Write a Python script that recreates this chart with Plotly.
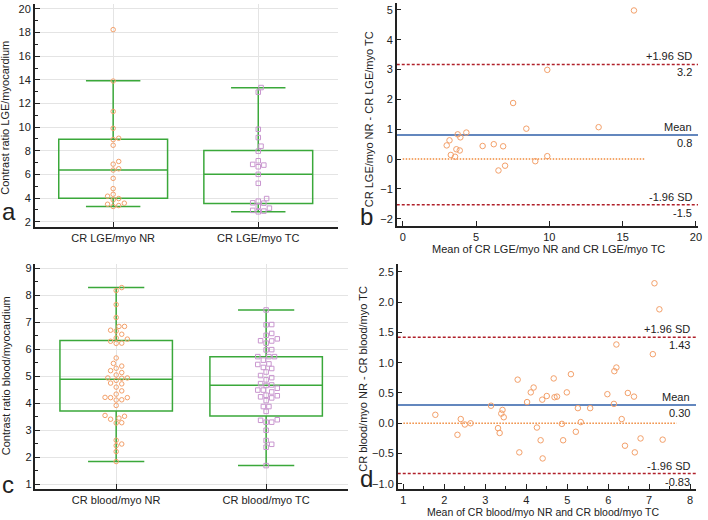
import numpy as np
import plotly.graph_objects as go

W, H = 708, 520

# ---------------- data ----------------
CAT_A = ["CR LGE/myo NR", "CR LGE/myo TC"]
CAT_C = ["CR blood/myo NR", "CR blood/myo TC"]

LGE_NR = [18.25, 13.9, 11.33, 9.9, 9.06, 8.95, 8.47, 7.1, 6.87, 6.48, 6.37,
          5.67, 4.8, 4.32, 4.16, 3.96, 3.85, 3.57, 3.48, 3.37, 3.29]
LGE_TC = [13.35, 12.96, 9.82, 9.12, 8.39, 7.97, 7.16, 6.85, 6.79, 6.65, 6.01,
          5.25, 3.96, 3.74, 3.6, 3.57, 3.3, 3.15, 2.96, 2.9, 2.84]
# box statistics: q1, median, q3, lower whisker, upper whisker
LGE_NR_BOX = [3.99, 6.37, 8.98, 3.29, 13.92]
LGE_TC_BOX = [3.54, 6.01, 8.03, 2.84, 13.33]

BLOOD_NR = [8.29, 8.18, 7.66, 7.18, 6.85, 6.85, 6.71, 6.68, 6.56, 6.38, 6.42,
            6.3, 6.22, 6.23, 5.68, 5.48, 5.38, 5.3, 5.21, 5.14, 5.05, 4.94,
            4.93, 4.94, 4.85, 4.72, 4.75, 4.6, 4.46, 4.34, 4.21, 4.21, 4.22,
            4.12, 4.13, 3.92, 3.55, 3.52, 3.45, 3.41, 3.27, 3.28, 2.63, 2.49,
            2.43, 2.21, 1.84]
BLOOD_TC = [7.46, 6.91, 6.92, 6.59, 6.52, 6.39, 6.32, 6.31, 6.23, 5.99, 5.98,
            5.73, 5.73, 5.73, 5.6, 5.44, 5.46, 5.29, 5.33, 5.16, 5.03, 4.95,
            4.87, 4.73, 4.68, 4.66, 4.56, 4.49, 4.49, 4.42, 4.3, 4.28, 4.24,
            4.2, 4.1, 3.88, 3.88, 3.7, 3.39, 3.37, 3.3, 3.3, 3.0, 2.62, 2.48,
            2.37, 1.69]
BLOOD_NR_BOX = [3.71, 4.89, 6.33, 1.84, 8.29]
BLOOD_TC_BOX = [3.53, 4.67, 5.73, 1.69, 7.46]

# Bland-Altman b
BA_B_MEAN = [3.0, 3.19, 3.28, 3.57, 3.66, 3.75, 3.89, 3.93, 4.34, 5.45, 6.21,
             6.53, 6.85, 6.98, 7.53, 8.43, 9.04, 9.86, 9.86, 13.36, 15.77]
BA_B_DIFF = [0.46, 0.63, 0.14, 0.08, 0.33, 0.83, 0.29, 0.73, 0.89, 0.44, 0.5,
             -0.38, 0.43, -0.22, 1.88, 1.02, -0.07, 2.99, 0.1, 1.07, 4.98]
BA_B_LINES = [0.81, 3.17, -1.53]          # mean, +1.96 SD, -1.96 SD
BA_B_LABELS = ["0.8", "3.2", "-1.5"]
BA_B_ZERO = [0, 16.5]

# Bland-Altman d
BA_D_MEAN = [1.78, 2.32, 2.4, 2.5, 2.64, 3.14, 3.31, 3.35, 3.39, 3.42, 3.45,
             3.79, 3.83, 4.02, 4.11, 4.18, 4.26, 4.35, 4.39, 4.40, 4.5, 4.67,
             4.69, 4.75, 4.87, 4.9, 4.99, 5.09, 5.21, 5.26, 5.33, 5.56, 5.98,
             6.14, 6.15, 6.2, 6.2, 6.33, 6.41, 6.48, 6.63, 6.65, 6.79, 7.09,
             7.13, 7.25, 7.33]
BA_D_DIFF = [0.14, -0.19, 0.07, -0.02, 0.0, 0.29, -0.08, -0.16, 0.16, 0.22,
             0.10, 0.72, -0.48, 0.35, 0.51, 0.59, -0.07, -0.28, 0.39, -0.58,
             0.45, 0.74, 0.43, 0.44, -0.01, -0.28, 0.51, 0.81, -0.14, 0.25,
             0.02, 0.25, 0.48, 0.32, 0.86, 0.92, 1.30, 0.07, -0.37, 0.50,
             0.44, -0.48, -0.25, 1.14, 2.31, 1.88, -0.27]
BA_D_LINES = [0.30, 1.42, -0.83]
BA_D_LABELS = ["0.30", "1.43", "-0.83"]
BA_D_ZERO = [1, 7.67]

# ---------------- style ----------------
FONT = "Liberation Sans, Arial, sans-serif"
TXT = "#222222"
GREEN = "#3aa83a"
ORANGE = "#f3a06a"
PURPLE = "#c996cf"
BLUE = "#2f5fa8"
RED = "#b0202a"
DOT = "#f08a3c"
GRID = "#e4e4e4"
AX = "#222222"

# panel geometry (pixels)
PA = dict(x=[35, 340], y=[2, 226], xr=[-0.54, 1.55], yr=[1.58, 20.42])
PB = dict(x=[399, 702], y=[1, 225], xr=[-0.407, 20.14], yr=[-2.23, 5.23])
PC = dict(x=[35.7, 350], y=[264, 490], xr=[-0.538, 1.546], yr=[0.816, 9.147])
PD = dict(x=[400, 700], y=[264, 490], xr=[0.862, 8.145], yr=[-1.087, 2.62])


def dom(p):
    return ([p["x"][0] / W, p["x"][1] / W], [1 - p["y"][1] / H, 1 - p["y"][0] / H])


def swarm(values, p, step_px=2.8, dist_px=5.2):
    pxx = (p["x"][1] - p["x"][0]) / (p["xr"][1] - p["xr"][0])
    pxy = (p["y"][1] - p["y"][0]) / (p["yr"][1] - p["yr"][0])
    vals = np.asarray(values, dtype=float)
    order = np.argsort(vals)
    placed = []
    offs = np.zeros(len(vals))
    cands = [0]
    for j in range(1, 40):
        cands += [j, -j]
    for i in order:
        yp = vals[i] * pxy
        xp = 0.0
        for c in cands:
            xp = c * step_px
            if all((xp - a) ** 2 + (yp - b) ** 2 >= dist_px ** 2 for a, b in placed):
                break
        placed.append((xp, yp))
        offs[i] = xp / pxx
    return offs


fig = go.Figure()


def add_box(stats, pos, xa, ya):
    fig.add_trace(go.Box(
        x=[pos], q1=[stats[0]], median=[stats[1]], q3=[stats[2]],
        lowerfence=[stats[3]], upperfence=[stats[4]],
        width=0.75, whiskerwidth=0.5, boxpoints=False,
        line=dict(color=GREEN, width=1.5), fillcolor="rgba(0,0,0,0)",
        xaxis=xa, yaxis=ya, showlegend=False, hoverinfo="skip"))


def add_points(values, pos, p, xa, ya, symbol, color):
    offs = swarm(values, p)
    fig.add_trace(go.Scatter(
        x=pos + offs, y=values, mode="markers",
        marker=dict(symbol=symbol, size=4.5, color=color, line=dict(width=1, color=color)),
        xaxis=xa, yaxis=ya, showlegend=False, hoverinfo="skip"))


# panel a
add_box(LGE_NR_BOX, 0, "x", "y")
add_box(LGE_TC_BOX, 1, "x", "y")
add_points(LGE_NR, 0, PA, "x", "y", "circle-open", ORANGE)
add_points(LGE_TC, 1, PA, "x", "y", "square-open", PURPLE)

# panel c
add_box(BLOOD_NR_BOX, 0, "x3", "y3")
add_box(BLOOD_TC_BOX, 1, "x3", "y3")
add_points(BLOOD_NR, 0, PC, "x3", "y3", "circle-open", ORANGE)
add_points(BLOOD_TC, 1, PC, "x3", "y3", "square-open", PURPLE)


def add_ba(means, diffs, lines, zero, xa, ya, p):
    fig.add_trace(go.Scatter(x=zero, y=[0, 0], mode="lines",
                             line=dict(color=DOT, width=1.5, dash="1.5px,1.5px"),
                             xaxis=xa, yaxis=ya, showlegend=False, hoverinfo="skip"))
    fig.add_trace(go.Scatter(x=p["xr"], y=[lines[0], lines[0]], mode="lines",
                             line=dict(color=BLUE, width=1.5),
                             xaxis=xa, yaxis=ya, showlegend=False, hoverinfo="skip"))
    for v in lines[1:]:
        fig.add_trace(go.Scatter(x=p["xr"], y=[v, v], mode="lines",
                                 line=dict(color=RED, width=1.5, dash="3px,2px"),
                                 xaxis=xa, yaxis=ya, showlegend=False, hoverinfo="skip"))
    fig.add_trace(go.Scatter(x=means, y=diffs, mode="markers",
                             marker=dict(symbol="circle-open", size=5.5, color=ORANGE,
                                         line=dict(width=1, color=ORANGE)),
                             xaxis=xa, yaxis=ya, showlegend=False, hoverinfo="skip"))


add_ba(BA_B_MEAN, BA_B_DIFF, BA_B_LINES, BA_B_ZERO, "x2", "y2", PB)
add_ba(BA_D_MEAN, BA_D_DIFF, BA_D_LINES, BA_D_ZERO, "x4", "y4", PD)

tickfont = dict(family=FONT, size=11, color=TXT)


def ax_common(**kw):
    d = dict(showline=True, linecolor=AX, linewidth=1.5, ticks="inside",
             ticklen=5, tickcolor=AX, tickwidth=1, zeroline=False,
             tickfont=tickfont, fixedrange=True)
    d.update(kw)
    return d


da = dom(PA); db = dom(PB); dc = dom(PC); dd = dom(PD)

fig.update_layout(
    width=W, height=H, margin=dict(l=0, r=0, t=0, b=0),
    paper_bgcolor="white", plot_bgcolor="white", showlegend=False,
    font=dict(family=FONT, color=TXT, size=11),
    boxmode="overlay",
    xaxis=ax_common(domain=da[0], range=PA["xr"], anchor="y", tickvals=[0, 1],
                    ticktext=CAT_A, showgrid=True, gridcolor=GRID, gridwidth=1),
    yaxis=ax_common(domain=da[1], range=PA["yr"], anchor="x", dtick=2, tick0=0,
                    showgrid=True, gridcolor=GRID, gridwidth=1,
                    minor=dict(ticks="inside", dtick=1, ticklen=3, tickcolor=AX, showgrid=False)),
    xaxis2=ax_common(domain=db[0], range=PB["xr"], anchor="y2", dtick=5, tick0=0,
                     showgrid=False),
    yaxis2=ax_common(domain=db[1], range=PB["yr"], anchor="x2", dtick=1, tick0=0,
                     showgrid=False),
    xaxis3=ax_common(domain=dc[0], range=PC["xr"], anchor="y3", tickvals=[0, 1],
                     ticktext=CAT_C, showgrid=True, gridcolor=GRID, gridwidth=1),
    yaxis3=ax_common(domain=dc[1], range=PC["yr"], anchor="x3", dtick=1, tick0=0,
                     showgrid=True, gridcolor=GRID, gridwidth=1,
                     minor=dict(ticks="inside", dtick=0.5, ticklen=3, tickcolor=AX, showgrid=False)),
    xaxis4=ax_common(domain=dd[0], range=PD["xr"], anchor="y4", dtick=1, tick0=0,
                     showgrid=False,
                     minor=dict(ticks="inside", dtick=0.5, ticklen=3, tickcolor=AX, showgrid=False)),
    yaxis4=ax_common(domain=dd[1], range=PD["yr"], anchor="x4", dtick=0.5, tick0=0,
                     tickformat=".1f", showgrid=False),
)

ann = []


def txt(x, y, s, size=11, angle=0, xanchor="center", yanchor="middle", xref="paper", yref="paper"):
    ann.append(dict(x=x, y=y, xref=xref, yref=yref, text=s, showarrow=False,
                    textangle=angle, xanchor=xanchor, yanchor=yanchor,
                    font=dict(family=FONT, size=size, color=TXT)))


# axis titles
txt(5.5 / W, 1 - 116 / H, "Contrast ratio LGE/myocardium", angle=-90)
txt(5.5 / W, 1 - 376 / H, "Contrast ratio blood/myocardium", angle=-90)
txt(371 / W, 1 - 118 / H, "CR LGE/myo NR - CR LGE/myo TC", angle=-90)
txt(365 / W, 1 - 379 / H, "CR blood/myo NR - CR blood/myo TC", angle=-90)
txt(552 / W, 1 - 248 / H, "Mean of CR LGE/myo NR and CR LGE/myo TC")
txt(546 / W, 1 - 512.5 / H, "Mean of CR blood/myo NR and CR blood/myo TC", size=10.5)

# panel letters
txt(0, 1 - 226 / H, "a", size=24, xanchor="left", yanchor="bottom")
txt(360 / W, 1 - 231 / H, "b", size=24, xanchor="left", yanchor="bottom")
txt(0, 1 - 501 / H, "c", size=24, xanchor="left", yanchor="bottom")
txt(360 / W, 1 - 495 / H, "d", size=24, xanchor="left", yanchor="bottom")

# Bland-Altman line labels
for lines, labels, xr, yr in [(BA_B_LINES, BA_B_LABELS, "x2 domain", "y2"),
                              (BA_D_LINES, BA_D_LABELS, "x4 domain", "y4")]:
    names = ["Mean", "+1.96 SD", "-1.96 SD"]
    for v, lab, nm in zip(lines, labels, names):
        txt(0.985, v, nm, xanchor="right", yanchor="bottom", xref=xr, yref=yr)
        txt(0.985, v, lab, xanchor="right", yanchor="top", xref=xr, yref=yr)

fig.update_layout(annotations=ann)
fig.write_html("out.html",
               config={"displayModeBar": False},
               post_script="document.body.style.margin='0';document.body.style.padding='0';")
